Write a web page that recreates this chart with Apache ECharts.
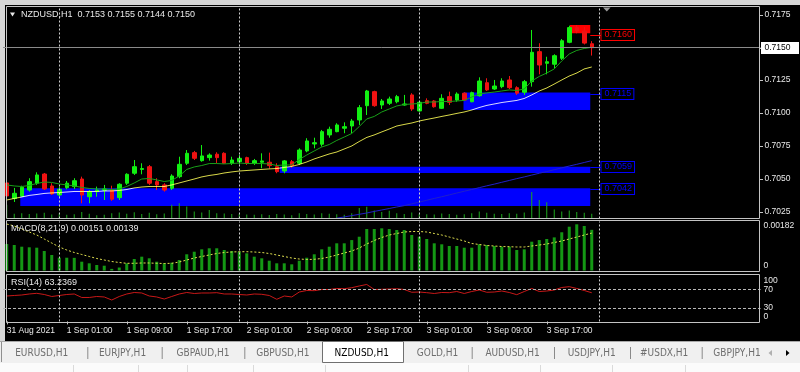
<!DOCTYPE html>
<html>
<head>
<meta charset="utf-8">
<title>NZDUSD,H1</title>
<script src="https://cdn.jsdelivr.net/npm/echarts@6/dist/echarts.min.js"></script>
<style>
html,body{margin:0;padding:0;background:#000;}
#chart{width:800px;height:372px;}
</style>
</head>
<body>
<div id="chart"></div>
<script>
// ---------------- data ----------------
const symbol = 'NZDUSD,H1';
const dayNames = ['31 Aug', '1 Sep', '2 Sep', '3 Sep', '4 Sep'];
const firstHour = 17;
const emptyBars = 22;
const tickIndex = [0, 8, 16, 24, 32, 40, 48, 56, 64, 72];
const tickLabels = ['31 Aug 2021', '1 Sep 01:00', '1 Sep 09:00', '1 Sep 17:00', '2 Sep 01:00',
  '2 Sep 09:00', '2 Sep 17:00', '3 Sep 01:00', '3 Sep 09:00', '3 Sep 17:00'];
const separatorIndex = [7, 31, 55, 79];
const priceTicks = [0.7025, 0.7050, 0.7075, 0.7100, 0.7125, 0.7150, 0.7175];
const bidPrice = 0.7150;
const macdTicks = [0, 0.00182];
const rsiTicks = [0, 30, 70, 100];
const rsiLevels = [70, 30];

const candleOpen = [0.70469,0.70352,0.70370,0.70415,0.70467,0.70537,0.70446,0.70377,0.70433,0.70441,
0.70499,0.70364,0.70403,0.70415,0.70415,0.70357,0.70467,0.70543,0.70572,0.70593,
0.70479,0.70454,0.70428,0.70517,0.70619,0.70700,0.70639,0.70662,0.70688,0.70695,
0.70619,0.70631,0.70662,0.70619,0.70627,0.70627,0.70593,0.70560,0.70631,0.70619,
0.70713,0.70766,0.70764,0.70835,0.70860,0.70886,0.70903,0.70949,0.71058,0.71165,
0.71063,0.71076,0.71088,0.71063,0.71140,0.71018,0.71096,0.71094,0.71038,0.71127,
0.71101,0.71153,0.71088,0.71134,0.71233,0.71185,0.71203,0.71254,0.71195,0.71160,
0.71241,0.71470,0.71381,0.71374,0.71419,0.71541,0.71654,0.71627,0.71530];
const candleClose = [0.70370,0.70390,0.70436,0.70479,0.70530,0.70423,0.70385,0.70421,0.70467,0.70486,
0.70377,0.70403,0.70415,0.70423,0.70345,0.70459,0.70535,0.70593,0.70579,0.70467,
0.70454,0.70415,0.70522,0.70611,0.70695,0.70657,0.70675,0.70682,0.70662,0.70619,
0.70644,0.70657,0.70619,0.70639,0.70637,0.70601,0.70555,0.70637,0.70601,0.70720,
0.70789,0.70776,0.70860,0.70878,0.70911,0.70898,0.70941,0.71043,0.71170,0.71058,
0.71094,0.71109,0.71127,0.71071,0.71033,0.71084,0.71076,0.71050,0.71114,0.71084,
0.71147,0.71101,0.71157,0.71246,0.71178,0.71208,0.71246,0.71195,0.71153,0.71241,
0.71465,0.71368,0.71393,0.71439,0.71553,0.71653,0.71627,0.71535,0.71500];
const candleLow = [0.70339,0.70324,0.70364,0.70403,0.70454,0.70415,0.70377,0.70364,0.70421,0.70423,
0.70314,0.70314,0.70364,0.70339,0.70332,0.70339,0.70454,0.70530,0.70535,0.70454,
0.70415,0.70403,0.70415,0.70505,0.70606,0.70644,0.70631,0.70639,0.70619,0.70614,
0.70606,0.70611,0.70606,0.70606,0.70581,0.70581,0.70543,0.70543,0.70585,0.70606,
0.70703,0.70733,0.70746,0.70814,0.70855,0.70848,0.70848,0.70911,0.70987,0.71050,
0.71033,0.71063,0.71076,0.71058,0.71018,0.71012,0.71069,0.71043,0.71033,0.71063,
0.71088,0.71094,0.71084,0.71127,0.71170,0.71178,0.71191,0.71185,0.71140,0.71140,
0.71203,0.71297,0.71297,0.71343,0.71406,0.71534,0.71610,0.71525,0.71440];
const candleHigh = [0.70575,0.70431,0.70448,0.70505,0.70550,0.70545,0.70467,0.70441,0.70484,0.70505,
0.70517,0.70415,0.70441,0.70454,0.70448,0.70467,0.70543,0.70644,0.70619,0.70606,
0.70505,0.70467,0.70535,0.70669,0.70720,0.70713,0.70758,0.70695,0.70703,0.70703,
0.70669,0.70682,0.70669,0.70652,0.70695,0.70700,0.70619,0.70644,0.70644,0.70733,
0.70810,0.70814,0.70873,0.70898,0.70924,0.70931,0.70957,0.71063,0.71178,0.71172,
0.71109,0.71127,0.71140,0.71140,0.71153,0.71094,0.71114,0.71101,0.71145,0.71165,
0.71160,0.71160,0.71165,0.71274,0.71267,0.71254,0.71267,0.71284,0.71206,0.71254,
0.71635,0.71534,0.71431,0.71450,0.71566,0.71668,0.71673,0.71658,0.71550];
const volume = [520,180,200,170,190,220,150,200,140,160,
250,180,120,140,200,230,180,240,170,220,
160,190,520,580,450,260,230,320,200,190,
170,180,150,140,160,130,170,150,120,200,
170,150,200,180,160,140,200,400,440,300,
250,290,200,170,230,180,160,150,190,170,
140,160,200,260,220,180,170,200,180,230,
1000,700,610,340,260,300,250,220,180];
const fastMA = [0.70454,0.70446,0.70442,0.70450,0.70465,0.70476,0.70473,0.70461,0.70454,0.70446,
0.70435,0.70427,0.70423,0.70423,0.70419,0.70423,0.70442,0.70469,0.70499,0.70503,
0.70492,0.70480,0.70488,0.70522,0.70572,0.70591,0.70602,0.70617,0.70617,0.70614,
0.70617,0.70621,0.70617,0.70617,0.70617,0.70614,0.70602,0.70606,0.70606,0.70648,
0.70682,0.70713,0.70743,0.70762,0.70793,0.70819,0.70846,0.70899,0.70957,0.70976,
0.71010,0.71033,0.71056,0.71067,0.71071,0.71075,0.71086,0.71086,0.71090,0.71090,
0.71094,0.71098,0.71124,0.71147,0.71155,0.71162,0.71170,0.71178,0.71174,0.71185,
0.71246,0.71281,0.71307,0.71338,0.71399,0.71452,0.71479,0.71494,0.71503];
const slowMA = [0.70339,0.70351,0.70362,0.70374,0.70381,0.70389,0.70393,0.70396,0.70400,0.70404,
0.70404,0.70404,0.70404,0.70408,0.70408,0.70412,0.70419,0.70431,0.70438,0.70442,
0.70442,0.70442,0.70454,0.70469,0.70484,0.70499,0.70515,0.70526,0.70534,0.70545,
0.70553,0.70560,0.70564,0.70568,0.70572,0.70576,0.70579,0.70587,0.70595,0.70610,
0.70629,0.70652,0.70671,0.70690,0.70705,0.70728,0.70751,0.70785,0.70816,0.70835,
0.70858,0.70880,0.70903,0.70915,0.70926,0.70941,0.70953,0.70964,0.70976,0.70987,
0.70999,0.71010,0.71025,0.71044,0.71060,0.71071,0.71082,0.71090,0.71098,0.71113,
0.71140,0.71170,0.71193,0.71223,0.71254,0.71284,0.71307,0.71338,0.71353];
const longMAStart = 43;
const longMA = [0.70190,0.70200,0.70210,0.70220,0.70230,0.70240,0.70252,0.70263,0.70274,0.70286,
0.70296,0.70310,0.70323,0.70337,0.70351,0.70364,0.70378,0.70392,0.70406,0.70419,
0.70433,0.70447,0.70460,0.70474,0.70488,0.70502,0.70515,0.70529,0.70543,0.70556,
0.70570,0.70584,0.70598,0.70611,0.70625,0.70639];
const macdMain = [0.000984,0.000947,0.000884,0.000862,0.000847,0.000724,0.000576,0.000475,0.000475,0.00047,
0.000327,0.000267,0.000204,0.000178,0.00006,0.00011,0.000267,0.000427,0.000513,0.000453,
0.000327,0.000267,0.00029,0.00039,0.000602,0.000698,0.000787,0.000825,0.000825,0.000761,
0.000724,0.000698,0.000639,0.000513,0.000453,0.000364,0.000267,0.000267,0.00023,0.000364,
0.000475,0.000602,0.000787,0.000884,0.00101,0.00101,0.00113,0.001255,0.00154,0.00154,
0.001567,0.00154,0.001504,0.001504,0.001318,0.001255,0.00117,0.00101,0.000973,0.00091,
0.00091,0.000847,0.000847,0.000973,0.000947,0.00091,0.000884,0.000884,0.000761,0.000787,
0.00107,0.00113,0.00117,0.00123,0.00142,0.001627,0.001716,0.001653,0.00151];
const macdSignal = [0.001727,0.001653,0.001541,0.00143,0.001318,0.00117,0.001021,0.000873,0.000761,0.000669,
0.000594,0.00052,0.000446,0.00039,0.000334,0.000297,0.000267,0.000267,0.000279,0.000279,
0.000267,0.00026,0.000267,0.000316,0.00039,0.000464,0.00052,0.000576,0.000631,0.000669,
0.000687,0.000698,0.000698,0.000687,0.000669,0.000631,0.000576,0.00052,0.000464,0.000427,
0.000409,0.000416,0.000446,0.000501,0.000576,0.00065,0.000724,0.000836,0.000984,0.001114,
0.001226,0.001318,0.001374,0.00143,0.001448,0.001448,0.00143,0.001374,0.001318,0.001244,
0.00117,0.001096,0.001003,0.000966,0.000929,0.00091,0.000891,0.000884,0.000873,0.000873,
0.00091,0.000947,0.000984,0.00104,0.001096,0.00117,0.001244,0.001318,0.00139];
const rsi = [56.1,57.2,58.3,60.5,62.0,59.4,55.0,57.2,59.4,60.5,
52.8,52.8,55.0,53.9,47.2,55.0,60.5,63.8,62.7,56.1,
53.9,49.4,55.0,60.5,63.8,61.6,62.7,62.7,63.4,60.5,
60.5,59.4,58.3,60.5,59.8,57.2,48.8,56.1,53.9,64.9,
68.2,67.8,70.4,70.4,72.7,72.2,74.4,78.2,81.5,70.4,
70.9,71.5,72.2,70.4,64.3,64.9,63.4,61.6,63.8,63.4,
66.0,61.6,66.0,69.3,64.3,64.9,67.1,63.8,59.0,66.0,
72.7,66.0,67.1,69.3,74.9,76.6,72.7,68.2,63.2369];

// supply / demand zones (bar-index span, price span, label price)
const zoneStart = [75.1, 60.9, 36.4, 1.8];
const zoneEnd = [77.8, 77.8, 77.8, 77.8];
const zoneLow = [0.71610, 0.71025, 0.70545, 0.70294];
const zoneHigh = [0.71673, 0.71158, 0.70593, 0.70428];
const zoneLabel = [0.7160, 0.7115, 0.7059, 0.7042];
const zoneKind = ['supply', 'demand', 'demand', 'demand'];

const tabNames = ['EURUSD,H1', 'EURJPY,H1', 'GBPAUD,H1', 'GBPUSD,H1', 'NZDUSD,H1', 'GOLD,H1', 'AUDUSD,H1', 'USDJPY,H1', '#USDX,H1', 'GBPJPY,H1'];
const activeTab = 4;

// ---------------- build ----------------
const nBars = candleOpen.length;
const nCats = nBars + emptyBars;
const categories = Array.from({length: nCats}, (_, k) => {
  const h = firstHour + k;
  return dayNames[Math.floor(h / 24)] + ' ' + String(h % 24).padStart(2, '0') + ':00';
});
const candleData = candleOpen.map((o, i) => [o, candleClose[i], candleLow[i], candleHigh[i]]);
const longMAData = categories.map((_, i) => (i >= longMAStart && i - longMAStart < longMA.length) ? longMA[i - longMAStart] : null);
const last = nBars - 1;

const FONT = '"Liberation Sans", Arial, sans-serif';
const TXT = '#e8e8e8';
const FRAME = '#c4c4c4';
const GREEN = '#12f012';
const RED = '#f01212';
const ZONE_BLUE = '#0000fe';
const ZONE_RED = '#fe0000';
const LABEL_IDX = 79.2;

const GL = 3, GW = 757.5;
const mainTop = 6.5, mainH = 212;
const macdTop = 221.5, macdH = 49;
const rsiTop = 276.1, rsiH = 45.3;

const sepLines = () => separatorIndex.map(i => ({xAxis: i}));
const dashStyle = {color: '#cfcfcf', type: [2, 2], width: 1};

const header = symbol + '  ' + [candleOpen[last], candleHigh[last], candleLow[last], candleClose[last]].map(v => v.toFixed(4)).join(' ');
const macdText = 'MACD(8,21,9) ' + macdMain[last].toFixed(5) + ' ' + macdSignal[last].toFixed(5);
const rsiText = 'RSI(14) ' + rsi[last].toFixed(4);

const tabCenter = [41.7, 122.5, 203, 282.8, 361.7, 437.5, 512.5, 591.7, 664.2, 737];
const tabSep = [87.3, 161.7, 244.3, 471.7, 554, 630, 701.7];
const statusSep = [73, 138, 187, 253, 325, 468, 540, 612, 685];

const textStyle = (text, fill, font, align) => ({text, fill, font, align: align || 'left', verticalAlign: 'middle', textAlign: align || 'left', textVerticalAlign: 'middle'});

const graphics = [
  {type: 'rect', shape: {x: 0, y: 0, width: 800, height: 5}, style: {fill: '#d6d6d6'}, silent: true},
  {type: 'rect', shape: {x: 0, y: 0, width: 5, height: 342}, style: {fill: '#d6d6d6'}, silent: true},
  {type: 'rect', shape: {x: 0, y: 341, width: 800, height: 22}, style: {fill: '#f0f0f0'}, silent: true},
  {type: 'line', shape: {x1: 0, y1: 341.5, x2: 800, y2: 341.5}, style: {stroke: '#a8a8a8', lineWidth: 1}, silent: true},
  {type: 'rect', shape: {x: 0, y: 363, width: 800, height: 9}, style: {fill: '#fbfbfb'}, silent: true},
  {type: 'rect', shape: {x: 322.5, y: 341.5, width: 81, height: 21}, style: {fill: '#ffffff', stroke: '#707070', lineWidth: 1}, silent: true},
  {type: 'line', shape: {x1: 1.5, y1: 342, x2: 1.5, y2: 362}, style: {stroke: '#909090', lineWidth: 1}, silent: true},
  {type: 'rect', shape: {x: 6.5, y: 6.5, width: 753, height: 212}, style: {fill: null, stroke: FRAME, lineWidth: 1}, z: 50, silent: true},
  {type: 'rect', shape: {x: 6.5, y: 220.5, width: 753, height: 51}, style: {fill: null, stroke: FRAME, lineWidth: 1}, z: 50, silent: true},
  {type: 'rect', shape: {x: 6.5, y: 274.5, width: 753, height: 48}, style: {fill: null, stroke: FRAME, lineWidth: 1}, z: 50, silent: true},
  {type: 'polygon', shape: {points: [[10, 12.5], [15, 12.5], [12.5, 16.5]]}, style: {fill: '#e8e8e8'}, z: 51, silent: true},
  {type: 'text', x: 21, y: 14.5, style: textStyle(header, TXT, '9px ' + FONT), z: 51, silent: true},
  {type: 'text', x: 11, y: 228.5, style: textStyle(macdText, TXT, '9px ' + FONT), z: 51, silent: true},
  {type: 'text', x: 11, y: 283, style: textStyle(rsiText, TXT, '9px ' + FONT), z: 51, silent: true},
  {type: 'polygon', shape: {points: [[603, 7.5], [610.5, 7.5], [606.75, 11.5]]}, style: {fill: '#9c9c9c'}, z: 51, silent: true},
  {type: 'polygon', shape: {points: [[772, 350], [772, 356], [768.5, 353]]}, style: {fill: '#b0b0b0'}, silent: true},
  {type: 'polygon', shape: {points: [[786, 350], [786, 356], [789.5, 353]]}, style: {fill: '#000'}, silent: true}
];
tabNames.forEach((t, k) => graphics.push({type: 'text', x: tabCenter[k], y: 353, style: textStyle(t, k === activeTab ? '#000' : '#6e6e6e', '10px "Liberation Sans Narrow", "DejaVu Sans Condensed", Arial, sans-serif', 'center'), silent: true}));
tabSep.forEach(x => graphics.push({type: 'line', shape: {x1: x + 0.5, y1: 347, x2: x + 0.5, y2: 359}, style: {stroke: '#8a8a8a', lineWidth: 1}, silent: true}));
statusSep.forEach(x => graphics.push({type: 'line', shape: {x1: x + 0.5, y1: 365, x2: x + 0.5, y2: 372}, style: {stroke: '#dadada', lineWidth: 1}, silent: true}));

const axisLabelBase = {color: TXT, fontSize: 8.5, fontFamily: FONT};
const hidden = () => ({show: false, axisLine: {show: false, onZero: false}, axisTick: {show: false}, axisLabel: {show: false}, splitLine: {show: false}, splitArea: {show: false}});
const markLineBase = {silent: true, symbol: 'none', precision: 6, label: {show: false}, animation: false};

const option = {
  backgroundColor: '#000',
  animation: false,
  grid: [
    {left: GL, top: mainTop, width: GW, height: mainH},
    {left: GL, top: macdTop, width: GW, height: macdH},
    {left: GL, top: rsiTop, width: GW, height: rsiH},
    {left: GL, top: mainTop, width: GW, height: mainH}
  ],
  xAxis: [
    Object.assign(hidden(), {gridIndex: 0, type: 'category', data: categories, boundaryGap: true}),
    Object.assign(hidden(), {gridIndex: 1, type: 'category', data: categories, boundaryGap: true}),
    {gridIndex: 2, type: 'category', data: categories, boundaryGap: true, axisLine: {show: false, onZero: false},
      axisTick: {show: true, alignWithLabel: true, length: 3, interval: (i) => tickIndex.includes(i), lineStyle: {color: FRAME}},
      axisLabel: Object.assign({}, axisLabelBase, {show: true, margin: 5, align: 'left', interval: (i) => tickIndex.includes(i),
        formatter: (v, i) => { const k = tickIndex.indexOf(i); return k >= 0 ? tickLabels[k] : ''; }}),
      splitLine: {show: false}},
    Object.assign(hidden(), {gridIndex: 3, type: 'category', data: categories, boundaryGap: true})
  ],
  yAxis: [
    Object.assign(hidden(), {gridIndex: 0, type: 'value', position: 'right', min: 0.70198, max: 0.71814}),
    {gridIndex: 1, type: 'value', position: 'right', min: 0, max: 0.00182, splitLine: {show: false}, axisLine: {show: false, onZero: false},
      axisTick: {show: false},
      axisLabel: Object.assign({}, axisLabelBase, {margin: 3, customValues: macdTicks, verticalAlignMaxLabel: 'top', verticalAlignMinLabel: 'bottom',
        formatter: (v) => v === 0 ? '0' : v.toFixed(5)})},
    {gridIndex: 2, type: 'value', position: 'right', min: 0, max: 100, splitLine: {show: false}, axisLine: {show: false, onZero: false},
      axisTick: {show: false},
      axisLabel: Object.assign({}, axisLabelBase, {margin: 3, customValues: rsiTicks, verticalAlignMaxLabel: 'top', verticalAlignMinLabel: 'bottom',
        formatter: (v) => String(v)})},
    Object.assign(hidden(), {gridIndex: 3, type: 'value', min: 0, max: 8000})
  ],
  series: [
    {
      name: 'zones', type: 'custom', xAxisIndex: 0, yAxisIndex: 0, z: 1, silent: true,
      data: zoneStart.map((s, k) => [Math.round(s), zoneHigh[k]]),
      renderItem: (params, api) => {
        const k = params.dataIndex;
        const col = zoneKind[k] === 'supply' ? ZONE_RED : ZONE_BLUE;
        const base = api.coord([0, zoneHigh[k]]);
        const bw = api.size([1, 0])[0];
        const xs = base[0] + zoneStart[k] * bw;
        const xe = base[0] + zoneEnd[k] * bw;
        const xl = Math.round(base[0] + LABEL_IDX * bw) + 0.5;
        const yTop = base[1];
        const yBot = api.coord([0, zoneLow[k]])[1];
        const yl = Math.round(api.coord([0, zoneLabel[k]])[1]);
        return {type: 'group', children: [
          {type: 'rect', shape: {x: xs, y: yTop, width: xe - xs, height: yBot - yTop}, style: {fill: col}},
          {type: 'line', shape: {x1: xe, y1: yl + 0.5, x2: xl, y2: yl + 0.5}, style: {stroke: col, lineWidth: 1}},
          {type: 'text', x: xl, y: yl, style: {text: zoneLabel[k].toFixed(4), fill: col, font: '9px ' + FONT,
            align: 'left', verticalAlign: 'middle', backgroundColor: '#000', borderColor: col, borderWidth: 1, padding: [1, 2, 0, 3]}}
        ]};
      }
    },
    {name: 'Volumes', type: 'bar', xAxisIndex: 3, yAxisIndex: 3, data: volume, barWidth: 1, itemStyle: {color: '#1ca81c'}, z: 2, silent: true},
    {name: 'MA long', type: 'line', xAxisIndex: 0, yAxisIndex: 0, data: longMAData, showSymbol: false, lineStyle: {color: '#2020c8', width: 1}, z: 2, silent: true},
    {
      name: symbol, type: 'candlestick', xAxisIndex: 0, yAxisIndex: 0, data: candleData, barWidth: 4, z: 3, silent: true,
      itemStyle: {color: GREEN, color0: RED, borderColor: GREEN, borderColor0: RED, borderWidth: 1},
      markLine: Object.assign({}, markLineBase, {
        data: [{yAxis: bidPrice, lineStyle: {color: '#8a8a8a', type: 'solid', width: 1}}].concat(sepLines().map(d => Object.assign(d, {lineStyle: dashStyle})))})
    },
    {name: 'MA slow', type: 'line', xAxisIndex: 0, yAxisIndex: 0, data: slowMA, showSymbol: false, blendMode: 'lighter', lineStyle: {color: '#d8d848', width: 1}, z: 4, silent: true},
    {name: 'MA fast', type: 'line', xAxisIndex: 0, yAxisIndex: 0, data: fastMA, showSymbol: false, lineStyle: {color: '#18a018', width: 1}, z: 4, silent: true},
    {
      name: 'MACD', type: 'bar', xAxisIndex: 1, yAxisIndex: 1, data: macdMain, barWidth: 3, itemStyle: {color: '#149814'}, z: 2, silent: true,
      markLine: Object.assign({}, markLineBase, {data: sepLines().map(d => Object.assign(d, {lineStyle: dashStyle}))})
    },
    {name: 'Signal', type: 'line', xAxisIndex: 1, yAxisIndex: 1, data: macdSignal, showSymbol: false, lineStyle: {color: '#e0e050', width: 1, type: [2, 2]}, z: 3, silent: true},
    {
      name: 'RSI', type: 'line', xAxisIndex: 2, yAxisIndex: 2, data: rsi, showSymbol: false, lineStyle: {color: '#c81818', width: 1}, z: 3, silent: true,
      markLine: Object.assign({}, markLineBase, {
        data: rsiLevels.map(v => ({yAxis: v, lineStyle: {color: '#b8b8b8', type: [3, 2], width: 1}}))
          .concat(sepLines().map(d => Object.assign(d, {lineStyle: dashStyle})))})
    }
  ]
};

const chart = echarts.init(document.getElementById('chart'), null, {renderer: 'canvas'});
chart.setOption(option);

// price scale labels and ticks, positioned through the main y axis
priceTicks.forEach(v => {
  const y = Math.round(chart.convertToPixel({yAxisIndex: 0}, v));
  graphics.push({type: 'line', shape: {x1: 760, y1: y + 0.5, x2: 763, y2: y + 0.5}, style: {stroke: FRAME, lineWidth: 1}, z: 51, silent: true});
  if (Math.abs(v - bidPrice) < 1e-7) {
    graphics.push({type: 'rect', shape: {x: 761, y: y - 6, width: 38, height: 12}, style: {fill: '#ffffff'}, z: 52, silent: true});
    graphics.push({type: 'text', x: 764.5, y: y, style: textStyle(v.toFixed(4), '#000', '8.5px ' + FONT), z: 53, silent: true});
  } else {
    graphics.push({type: 'text', x: 764.5, y: y, style: textStyle(v.toFixed(4), TXT, '8.5px ' + FONT), z: 53, silent: true});
  }
});
chart.setOption({graphic: {elements: graphics}});
</script>
</body>
</html>
